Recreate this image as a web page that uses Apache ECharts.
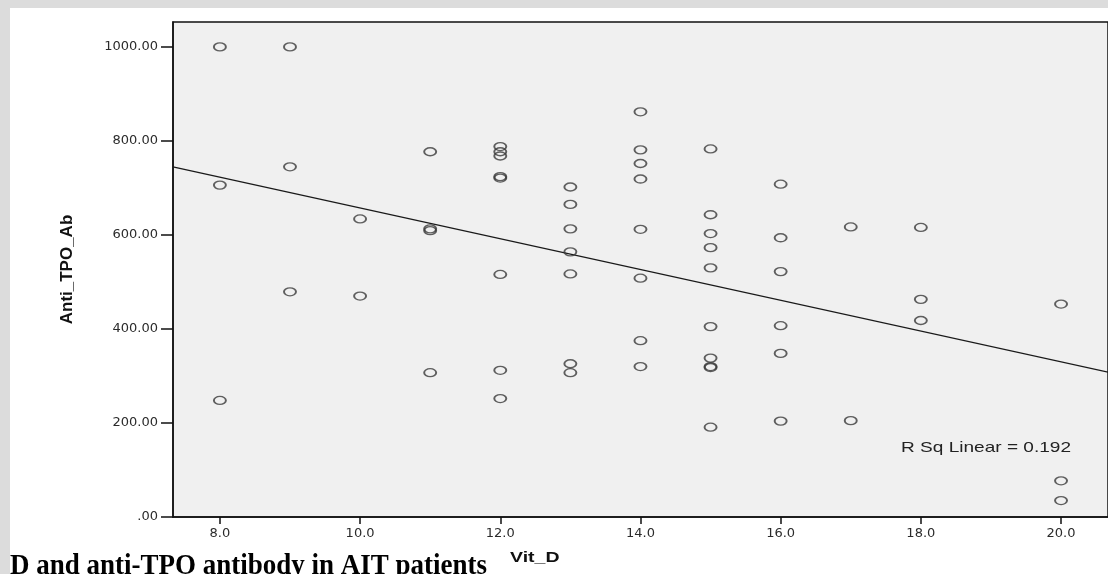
<!DOCTYPE html>
<html>
<head>
<meta charset="utf-8">
<title>Vit_D vs Anti_TPO_Ab</title>
<script src="https://cdn.jsdelivr.net/npm/echarts@6.0.0/dist/echarts.min.js"></script>
<style>
  html, body { margin: 0; padding: 0; background: #dcdcdc; }
  #main {
    position: absolute;
    left: 10px;
    top: 8px;
    width: 1098px;
    height: 566px;
    background: #ffffff;
    overflow: hidden;
  }
</style>
</head>
<body>
<div id="main"></div>
<script>
// x values (Vit_D) and y values (Anti_TPO_Ab), one entry per patient
const vitD = [
  8, 8, 8,
  9, 9, 9,
  10, 10,
  11, 11, 11, 11,
  12, 12, 12, 12, 12, 12, 12, 12,
  13, 13, 13, 13, 13, 13, 13,
  14, 14, 14, 14, 14, 14, 14, 14,
  15, 15, 15, 15, 15, 15, 15, 15, 15, 15,
  16, 16, 16, 16, 16, 16,
  17, 17,
  18, 18, 18,
  20, 20, 20
];
const antiTPO = [
  1000, 706, 248,
  1000, 745, 479,
  634, 470,
  777, 613, 609, 307,
  788, 777, 768, 724, 721, 516, 312, 252,
  702, 665, 613, 564, 517, 326, 307,
  862, 781, 752, 719, 612, 508, 375, 320,
  783, 643, 603, 573, 530, 405, 338, 320, 318, 191,
  708, 594, 522, 407, 348, 204,
  617, 205,
  616, 463, 418,
  453, 77, 35
];
// fit line end points
const fitX = [7.33, 20.67];
const fitY = [745, 308];
// tick labels
const xTicks = [8, 10, 12, 14, 16, 18, 20];
const yTicks = [0, 200, 400, 600, 800, 1000];
const rSqText = "R Sq Linear = 0.192";
const captionText = "D and anti-TPO antibody in AIT patients";

const chartDom = document.getElementById("main");
const myChart = echarts.init(chartDom);

const points = vitD.map((v, i) => [v, antiTPO[i]]);
const fitLine = fitX.map((v, i) => [v, fitY[i]]);

const labelFont = {
  color: "#2b2b2b",
  fontFamily: "DejaVu Sans",
  fontSize: 13,
};

const option = {
  animation: false,
  grid: {
    left: 163,
    top: 14,
    right: -2,
    bottom: 57,
    show: true,
    backgroundColor: "#f0f0f0",
    borderColor: "#111",
    borderWidth: 1.5,
  },
  xAxis: {
    type: "value",
    min: 7.331,
    max: 20.67,
    splitLine: { show: false },
    axisLine: { show: true, lineStyle: { color: "#111", width: 1.5 } },
    axisTick: {
      show: true,
      length: 7,
      customValues: xTicks,
      lineStyle: { color: "#111", width: 1.5 },
    },
    axisLabel: {
      ...labelFont,
      margin: 10,
      customValues: xTicks,
      formatter: (v) => v.toFixed(1),
    },
  },
  yAxis: {
    type: "value",
    min: 0,
    max: 1053,
    name: "Anti_TPO_Ab",
    nameLocation: "middle",
    nameGap: 97,
    nameTextStyle: {
      color: "#111",
      fontFamily: "Liberation Sans",
      fontWeight: "bold",
      fontSize: 17,
    },
    splitLine: { show: false },
    axisLine: { show: true, lineStyle: { color: "#111", width: 1.5 } },
    axisTick: {
      show: true,
      length: 12,
      customValues: yTicks,
      lineStyle: { color: "#111", width: 1.5 },
    },
    axisLabel: {
      ...labelFont,
      margin: 15,
      customValues: yTicks,
      formatter: (v) => (v === 0 ? ".00" : v.toFixed(2)),
    },
  },
  series: [
    {
      name: "fit",
      type: "line",
      data: fitLine,
      showSymbol: false,
      silent: true,
      lineStyle: { color: "#1a1a1a", width: 1.3 },
      z: 2,
    },
    {
      name: "Anti_TPO_Ab",
      type: "scatter",
      data: points,
      symbol: "circle",
      symbolSize: [12, 8],
      itemStyle: {
        color: "rgba(0,0,0,0)",
        borderColor: "#3a3a3a",
        borderWidth: 1.6,
      },
      z: 3,
    },
  ],
  graphic: [
    {
      type: "text",
      x: 891,
      y: 432,
      scaleX: 1.27,
      style: {
        text: rSqText,
        fill: "#222",
        font: "15px 'Liberation Sans'",
      },
    },
    {
      type: "text",
      x: 500,
      y: 542,
      scaleX: 1.3,
      style: {
        text: "Vit_D",
        fill: "#111",
        font: "bold 15px 'Liberation Sans'",
      },
    },
    {
      type: "text",
      x: 0,
      y: 543,
      scaleY: 1.12,
      style: {
        text: captionText,
        fill: "#000",
        font: "bold 27px 'Liberation Serif'",
      },
    },
  ],
};

myChart.setOption(option);
</script>
</body>
</html>
